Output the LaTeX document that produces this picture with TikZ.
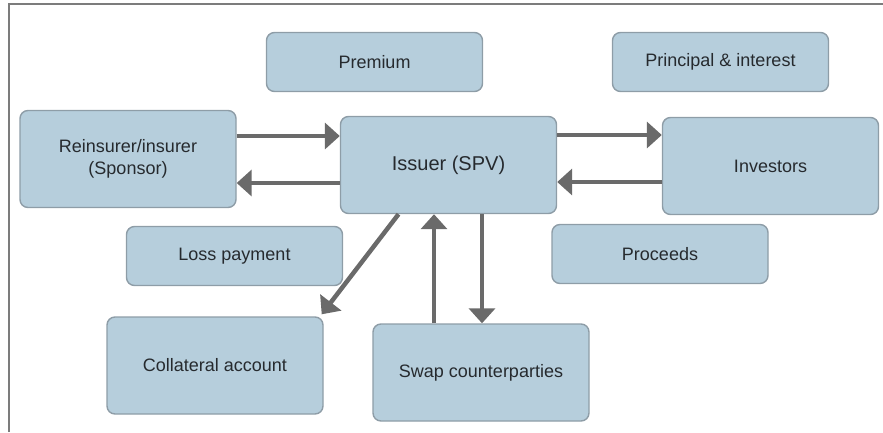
\documentclass[tikz,border=0pt]{standalone}
\usepackage{fontspec}
\setmainfont{Liberation Sans}
\usetikzlibrary{arrows.meta}

\definecolor{boxfill}{HTML}{B6CEDC}
\definecolor{boxedge}{HTML}{8E9DA7}
\definecolor{flow}{HTML}{6A6A6A}
\definecolor{txt}{HTML}{262A2E}
\definecolor{frame}{HTML}{7C7C7C}

\tikzset{
  box/.style={draw=boxedge, fill=boxfill, line width=1.4pt, rounded corners=8pt,
    text=txt, align=center, inner sep=0pt,
    font=\fontsize{18}{22}\selectfont},
  bigbox/.style={box, minimum width=216pt, minimum height=97pt},
  tagbox/.style={box, minimum width=216pt, minimum height=59pt},
  flowarrow/.style={draw=flow, line width=4.5pt,
    -{Triangle[length=15pt,width=26pt]}}
}

\begin{document}
\begin{tikzpicture}[x=1pt,y=-1pt]
  \useasboundingbox (0,0) rectangle (883,432);

  % frame lines along the top and left edges
  \draw[frame, line width=1.5pt] (9,432) -- (9,4) -- (883,4);

  % parties
  \node[bigbox] (sponsor) at (128,159) {Reinsurer/insurer\\(Sponsor)};
  \node[bigbox, font=\fontsize{20}{24}\selectfont] (issuer) at (448.5,165) {Issuer (SPV)};
  \node[bigbox] (investors) at (770.5,166) {Investors};
  \node[bigbox] (collateral) at (215,365.5) {Collateral account};
  \node[bigbox] (swap) at (481,372.5) {Swap counterparties};

  % flow labels
  \node[tagbox] (premium) at (374.5,62) {Premium};
  \node[tagbox] (principal) at (720.5,62) {Principal \& interest};
  \node[tagbox] (loss) at (234.5,256) {Loss payment};
  \node[tagbox] (proceeds) at (660,254) {Proceeds};

  % sponsor <-> issuer
  \draw[flowarrow] ([yshift=23pt]sponsor.east) -- ([yshift=23pt]sponsor.east -| issuer.west);
  \draw[flowarrow] ([yshift=-24pt]sponsor.east -| issuer.west) -- ([yshift=-24pt]sponsor.east);

  % issuer <-> investors
  \draw[flowarrow] ([yshift=30pt]issuer.east) -- ([yshift=30pt]issuer.east -| investors.west);
  \draw[flowarrow] ([yshift=-17pt]issuer.east -| investors.west) -- ([yshift=-17pt]issuer.east);

  % issuer -> collateral account
  \draw[flowarrow] ([xshift=-50pt]issuer.south) -- ([xshift=-2pt,yshift=2pt]collateral.north east);

  % issuer <-> swap counterparties
  \draw[flowarrow] ([xshift=-47pt]swap.north) -- ([xshift=-47pt]swap.north |- issuer.south);
  \draw[flowarrow] ([xshift=33.5pt]issuer.south) -- ([xshift=33.5pt]issuer.south |- swap.north);
\end{tikzpicture}
\end{document}
